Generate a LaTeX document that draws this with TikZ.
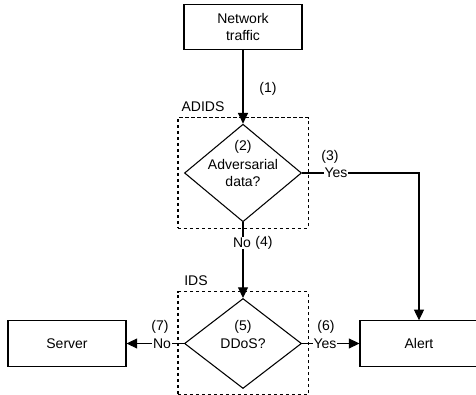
\documentclass[tikz,border=0pt]{standalone}
\usepackage{fontspec}
\setmainfont{Liberation Sans}
\usetikzlibrary{shapes.geometric,arrows.meta,fit}

\begin{document}
\begin{tikzpicture}[x=0.75pt,y=-0.75pt,
	font=\fontsize{10.5}{13}\selectfont,
	box/.style={draw,line width=0.8pt,minimum width=88.5pt,minimum height=34pt,inner sep=0pt,align=center},
	decision/.style={draw,diamond,line width=0.8pt,minimum width=87.75pt,minimum height=67.5pt,inner sep=0pt,align=center},
	group/.style={draw,line width=0.8pt,dash pattern=on 2.5pt off 2pt,inner sep=4.5pt},
	flow/.style={line width=0.8pt,-{Triangle[length=8pt,width=7.5pt]}},
	lbl/.style={fill=white,inner sep=0.5pt}]
\useasboundingbox (0,0) rectangle (476,395);
	\node[box] (traffic) at (243,27) {Network\\traffic};
	\node[decision] (adv) at (243,173) {Adversarial\\data?};
	\node[decision] (ddos) at (243,343.5) {DDoS?};
	\node[box] (server) at (67,343.5) {Server};
	\node[box] (alert) at (419,343.5) {Alert};
	\node[group,fit=(adv.north)(adv.south)(adv.east)(adv.west)] (adids) {};
	\node[group,fit=(ddos.north)(ddos.south)(ddos.east)(ddos.west)] (ids) {};
	\node (adidslbl) at (203,107) {ADIDS};
	\node (idslbl) at (196,281) {IDS};
	\node (s2) at (243,147) {(2)};
	\node (s5) at (243,327) {(5)};
	\draw[flow] (traffic) -- (adv);
	\node (s1) at (268,89) {(1)};
	\draw[flow] (adv) -| (alert);
	\node[lbl] (yes1) at (336,173) {Yes};
	\node (s3) at (330,157) {(3)};
	\draw[flow] (adv) -- (ddos);
	\node[lbl] (no1) at (242,243) {No};
	\node (s4) at (264,243) {(4)};
	\draw[flow] (ddos) -- (alert);
	\node[lbl] (yes2) at (325,343.5) {Yes};
	\node (s6) at (326,327) {(6)};
	\draw[flow] (ddos) -- (server);
	\node[lbl] (no2) at (162,343.5) {No};
	\node (s7) at (160,327) {(7)};
\end{tikzpicture}
\end{document}
